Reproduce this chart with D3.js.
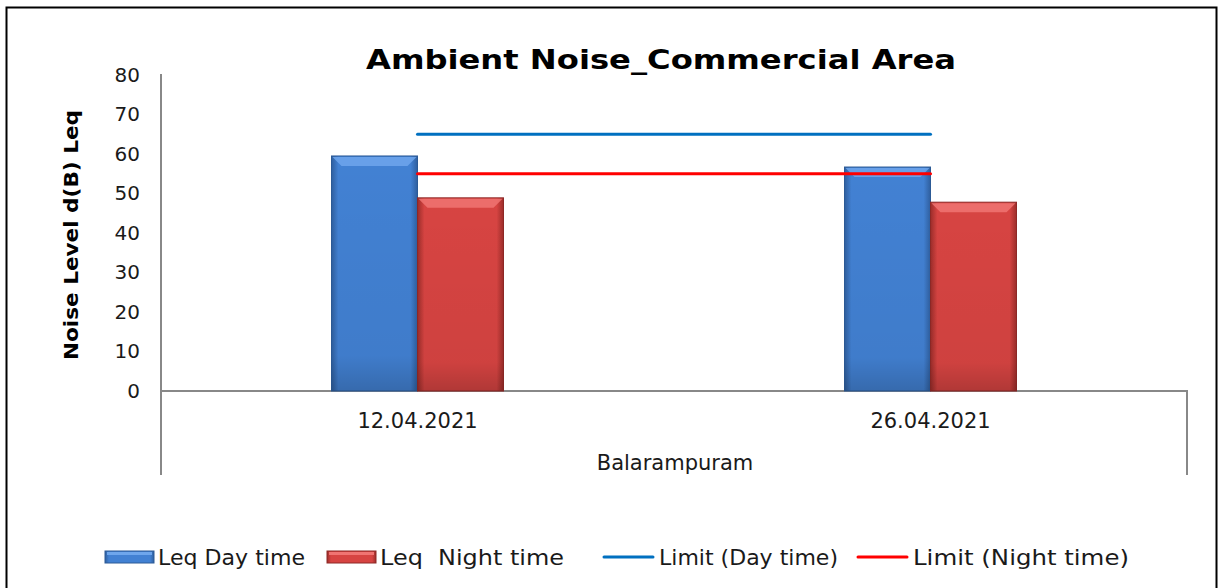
<!DOCTYPE html>
<html lang="en">
<head>
<meta charset="utf-8">
<title>Ambient Noise_Commercial Area</title>
<script src="https://d3js.org/d3.v7.min.js"></script>
<style>
  body { margin: 0; background: #fff; }
  text { font-family: "DejaVu Sans", Verdana, sans-serif; fill: #1a1a1a; }
</style>
</head>
<body>
<script>
// data
var dates = ["12.04.2021", "26.04.2021"];
var seriesNames = ["Leq Day time", "Leq  Night time"];
var dayLeq = [59.5, 56.7];
var nightLeq = [48.9, 47.8];
var dayLimit = [65, 65];
var nightLimit = [55, 55];
var yTicks = [0, 10, 20, 30, 40, 50, 60, 70, 80];

var w = 1223, h = 588;
var plot = {left: 161, right: 1187, top: 75, bottom: 391};

var svg = d3.select("body").append("svg")
  .attr("width", w).attr("height", h);

// frame
svg.append("rect")
  .attr("x", 6.5).attr("y", 7.5)
  .attr("width", 1210).attr("height", 600)
  .attr("fill", "#fff").attr("stroke", "#000").attr("stroke-width", 2);

// gradients for bars
var defs = svg.append("defs");
function barGradient(id, edge, mid) {
  var g = defs.append("linearGradient").attr("id", id)
    .attr("x1", "0").attr("x2", "1").attr("y1", "0").attr("y2", "0");
  g.append("stop").attr("offset", "0").attr("stop-color", edge);
  g.append("stop").attr("offset", "0.08").attr("stop-color", mid);
  g.append("stop").attr("offset", "0.92").attr("stop-color", mid);
  g.append("stop").attr("offset", "1").attr("stop-color", edge);
}
barGradient("gBlue", "#2f5f9f", "#4281d3");
barGradient("gRed", "#9c2d2a", "#d74442");
var vshade = defs.append("linearGradient").attr("id", "vshade")
  .attr("x1", "0").attr("x2", "0").attr("y1", "0").attr("y2", "1");
vshade.append("stop").attr("offset", "0").attr("stop-color", "#000").attr("stop-opacity", 0);
vshade.append("stop").attr("offset", "0.85").attr("stop-color", "#000").attr("stop-opacity", 0.04);
vshade.append("stop").attr("offset", "1").attr("stop-color", "#000").attr("stop-opacity", 0.18);

var fills = ["url(#gBlue)", "url(#gRed)"];
var tops = ["#6ea6ec", "#f07472"];
var edges = ["#2c5a96", "#8e2826"];

// scales
var x = d3.scaleBand().domain(dates).range([plot.left, plot.right]).padding(0);
var barW = 86;
var xs = d3.scaleBand().domain(seriesNames).range([-barW, barW]);
var y = d3.scaleLinear().domain([0, 80]).range([plot.bottom, plot.top]);

// title
svg.append("text")
  .attr("x", 661).attr("y", 69)
  .attr("text-anchor", "middle")
  .attr("textLength", 590).attr("lengthAdjust", "spacingAndGlyphs")
  .style("font-size", "27px").style("font-weight", "bold")
  .style("fill", "#000")
  .text("Ambient Noise_Commercial Area");

// y axis
var yAxis = svg.append("g")
  .attr("transform", "translate(" + plot.left + ",0)")
  .call(d3.axisLeft(y).tickValues(yTicks).tickSize(0).tickPadding(21));
yAxis.select(".domain").attr("stroke", "#888").attr("stroke-width", 2)
  .attr("d", "M0," + (plot.top - 1) + "V" + 475);
yAxis.selectAll(".tick text")
  .style("font-size", "20px").style("font-family", "DejaVu Sans, sans-serif")
  .attr("fill", "#1a1a1a");

svg.append("text")
  .attr("transform", "translate(78,235) rotate(-90)")
  .attr("text-anchor", "middle")
  .attr("textLength", 250).attr("lengthAdjust", "spacingAndGlyphs")
  .style("font-size", "20px").style("font-weight", "bold").style("fill", "#000")
  .text("Noise Level d(B) Leq");

// category axis: baseline + right border line
svg.append("path")
  .attr("d", "M" + plot.left + "," + plot.bottom + "H" + plot.right + "V" + 475)
  .attr("fill", "none").attr("stroke", "#888").attr("stroke-width", 2);

svg.selectAll(".cat").data(dates).enter().append("text")
  .attr("class", "cat")
  .attr("x", d => x(d) + x.bandwidth() / 2)
  .attr("y", 428)
  .attr("text-anchor", "middle")
  .style("font-size", "21px")
  .text(d => d);

svg.append("text")
  .attr("x", 675).attr("y", 470)
  .attr("text-anchor", "middle")
  .style("font-size", "21px")
  .text("Balarampuram");

// bars
var barData = [];
dates.forEach(function (d, i) {
  barData.push({cat: d, s: 0, v: dayLeq[i]});
  barData.push({cat: d, s: 1, v: nightLeq[i]});
});

var bars = svg.append("g").selectAll("g").data(barData).enter().append("g")
  .attr("transform", d => "translate(" + (x(d.cat) + x.bandwidth() / 2 + xs(seriesNames[d.s])) + ",0)");

bars.append("rect")
  .attr("x", 0).attr("y", d => y(d.v))
  .attr("width", xs.bandwidth()).attr("height", d => y(0) - y(d.v))
  .attr("fill", d => fills[d.s])
  .attr("stroke", d => edges[d.s]).attr("stroke-width", 1);
bars.append("rect")
  .attr("x", 0).attr("y", d => y(d.v))
  .attr("width", xs.bandwidth()).attr("height", d => y(0) - y(d.v))
  .attr("fill", "url(#vshade)");
// top bevel
bars.append("path")
  .attr("d", function (d) {
    var t = y(d.v), bw = xs.bandwidth();
    return "M1," + (t + 1) + "H" + (bw - 1) + "L" + (bw - 10) + "," + (t + 10) + "H10Z";
  })
  .attr("fill", d => tops[d.s]).attr("opacity", 0.85);

// limit lines
var line = d3.line()
  .x(d => x(d.cat) + x.bandwidth() / 2)
  .y(d => y(d.v));
var limits = [
  {vals: dayLimit, color: "#0070c0"},
  {vals: nightLimit, color: "#ff0000"}
];
limits.forEach(function (L) {
  svg.append("path")
    .datum(dates.map((d, i) => ({cat: d, v: L.vals[i]})))
    .attr("d", line)
    .attr("fill", "none")
    .attr("stroke", L.color).attr("stroke-width", 3)
    .attr("stroke-linecap", "round");
});

// legend
var legend = [
  {label: "Leq Day time", type: "bar", s: 0, x: 105, len: 147},
  {label: "Leq  Night time", type: "bar", s: 1, x: 327, len: 184},
  {label: "Limit (Day time)", type: "line", color: "#0070c0", x: 604, len: 179},
  {label: "Limit (Night time)", type: "line", color: "#ff0000", x: 858, len: 216}
];
var lg = svg.append("g").selectAll("g").data(legend).enter().append("g")
  .attr("transform", d => "translate(" + d.x + ",557)");
lg.filter(d => d.type === "bar").append("rect")
  .attr("x", 0).attr("y", -6).attr("width", 49).attr("height", 12)
  .attr("fill", d => fills[d.s]).attr("stroke", d => edges[d.s]);
lg.filter(d => d.type === "bar").append("rect")
  .attr("x", 2).attr("y", -5).attr("width", 45).attr("height", 3)
  .attr("fill", d => tops[d.s]);
lg.filter(d => d.type === "line").append("line")
  .attr("x1", 0).attr("x2", 49).attr("y1", 0).attr("y2", 0)
  .attr("stroke", d => d.color).attr("stroke-width", 3)
  .attr("stroke-linecap", "round");
lg.append("text")
  .attr("x", d => d.type === "bar" ? 53 : 55)
  .attr("y", 8)
  .attr("textLength", d => d.len).attr("lengthAdjust", "spacingAndGlyphs")
  .style("font-size", "21px").style("white-space", "pre")
  .text(d => d.label);
</script>
</body>
</html>
